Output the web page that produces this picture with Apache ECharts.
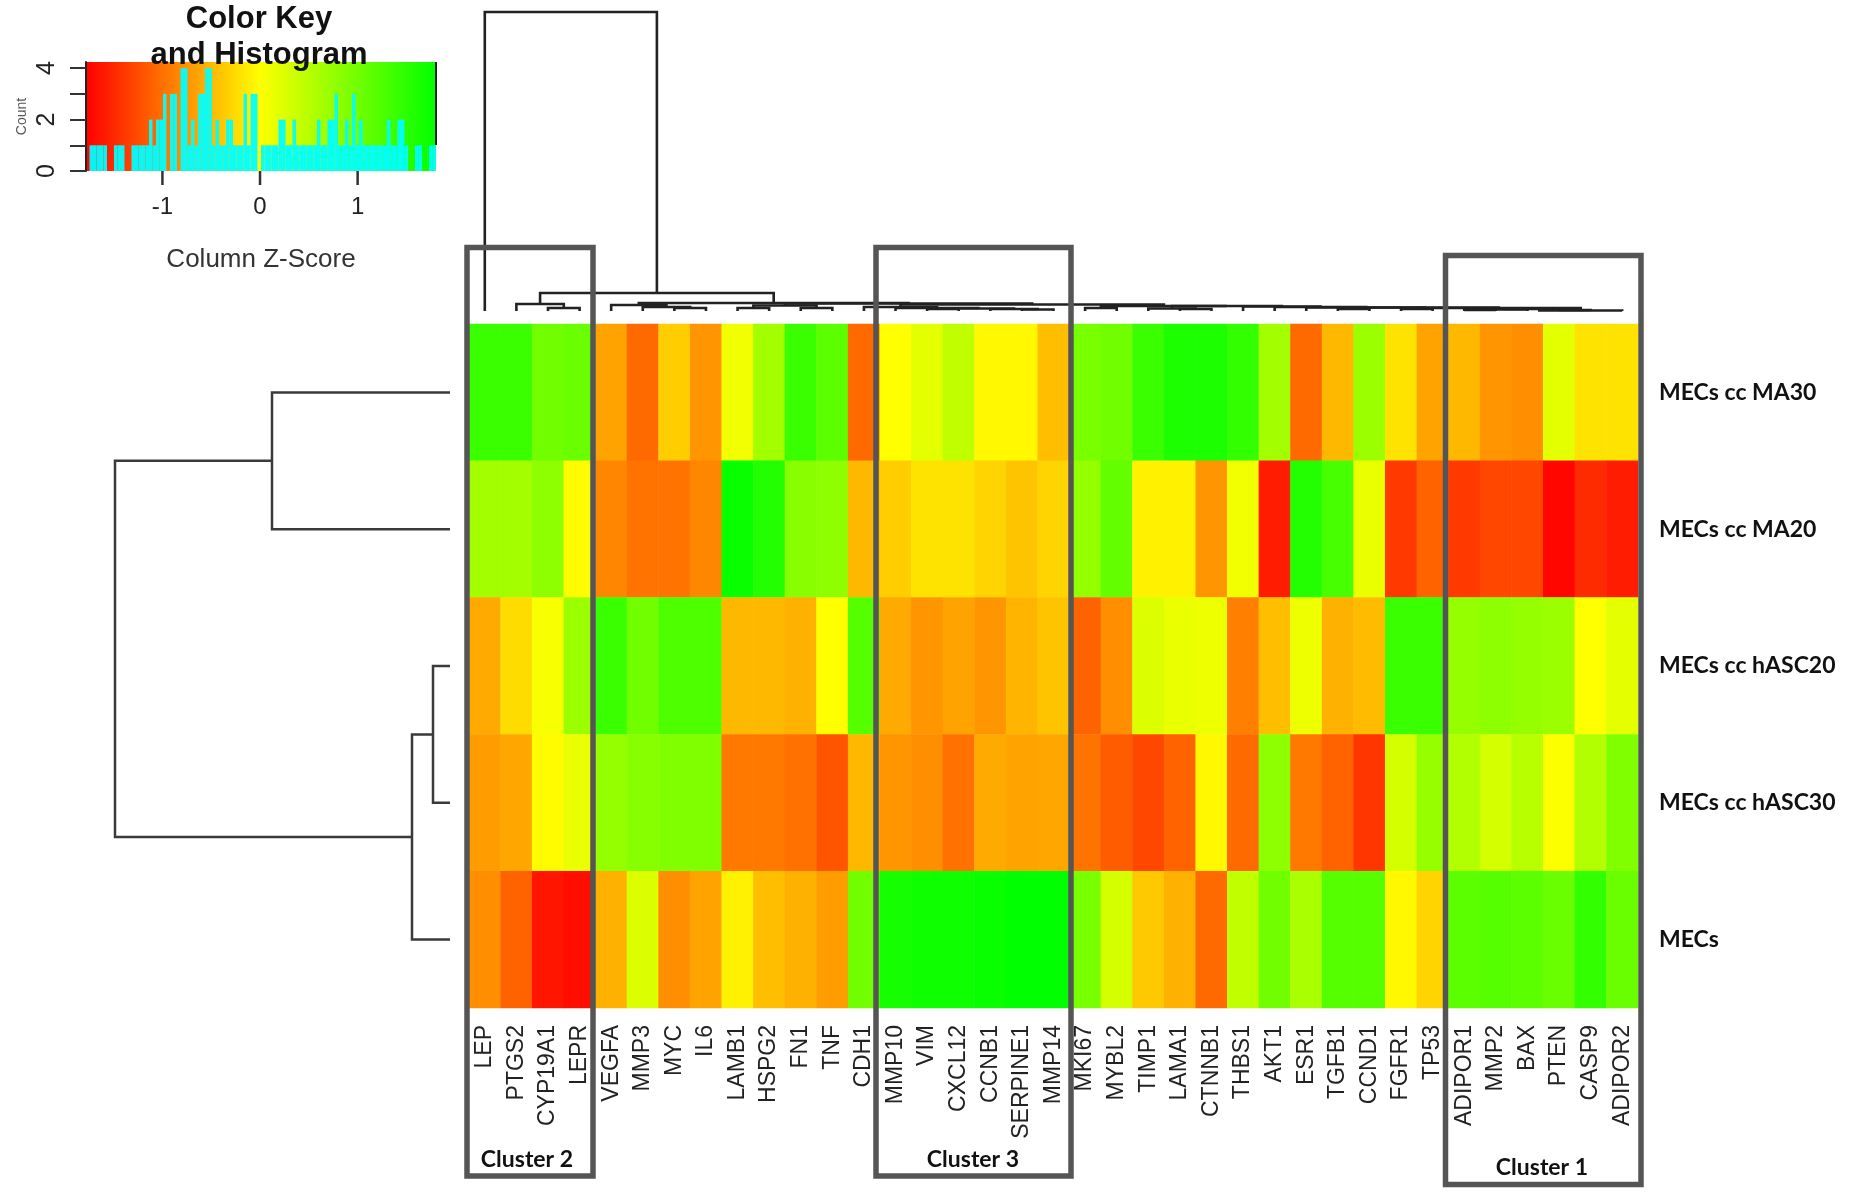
<!DOCTYPE html>
<html>
<head>
<meta charset="utf-8">
<style>html,body{margin:0;padding:0;background:#fff}#c{width:1850px;height:1202px}</style>
<script src="https://cdn.jsdelivr.net/npm/echarts@6/dist/echarts.min.js"></script>
</head>
<body>
<div id="c"></div>
<script>
const genes = ['LEP','PTGS2','CYP19A1','LEPR','VEGFA','MMP3','MYC','IL6','LAMB1','HSPG2','FN1','TNF','CDH1',
  'MMP10','VIM','CXCL12','CCNB1','SERPINE1','MMP14','MKI67','MYBL2','TIMP1','LAMA1','CTNNB1','THBS1','AKT1',
  'ESR1','TGFB1','CCND1','FGFR1','TP53','ADIPOR1','MMP2','BAX','PTEN','CASP9','ADIPOR2'];
const samples = ['MECs cc MA30','MECs cc MA20','MECs cc hASC20','MECs cc hASC30','MECs'];

// column z-scores, one list per sample
const zMA30 = [1.4,1.4,1.0,1.05,-0.65,-1.05,-0.35,-0.75,0.1,0.65,1.4,1.15,-1.05,
  0,0.2,0.45,-0.05,-0.05,-0.45,0.95,1.0,1.4,1.6,1.6,1.45,0.65,
  -1.05,-0.5,0.7,-0.2,-0.65,-0.5,-0.75,-0.8,0.2,-0.2,-0.2];
const zMA20 = [0.65,0.65,0.8,-0.02,-0.85,-0.98,-0.98,-0.85,1.75,1.55,0.85,0.8,-0.5,
  -0.35,-0.2,-0.2,-0.3,-0.42,-0.3,0.75,1.1,-0.1,-0.1,-0.75,0.1,-1.6,
  1.55,1.3,0.15,-1.4,-1.1,-1.4,-1.3,-1.3,-1.75,-1.5,-1.6];
const zHASC20 = [-0.6,-0.25,0.05,0.7,1.4,1.0,1.25,1.25,-0.5,-0.5,-0.55,0,1.2,
  -0.6,-0.75,-0.65,-0.75,-0.52,-0.42,-1.1,-0.8,0.25,0.15,0.12,-0.9,-0.45,
  0.12,-0.55,-0.48,1.4,1.4,0.75,0.8,0.75,0.7,0,0.2];
const zHASC30 = [-0.7,-0.62,-0.02,0.15,0.75,0.85,0.9,0.9,-0.95,-0.95,-1.0,-1.2,-0.5,
  -0.75,-0.8,-1.0,-0.6,-0.65,-0.62,-0.98,-1.15,-1.3,-1.1,-0.05,-1.05,0.8,
  -0.95,-1.1,-1.42,0.3,0.75,0.55,0.3,0.5,0.02,0.55,0.9];
const zMEC = [-0.8,-1.1,-1.65,-1.7,-0.55,0.25,-0.8,-0.65,-0.1,-0.45,-0.55,-0.7,1.0,
  1.65,1.7,1.7,1.75,1.8,1.8,0.95,0.3,-0.38,-0.55,-1.05,0.45,1.0,
  0.6,1.2,1.2,-0.05,-0.3,1.15,1.2,1.15,1.05,1.45,1.05];
const zBySample = [zMA30,zMA20,zHASC20,zHASC30,zMEC];

// histogram counts, equal-width bins across the key
const histCounts = [0,1,1,1,1,1,0,0,1,1,1,0,0,1,1,1,1,1,2,1,2,2,3,0,3,3,0,4,4,1,2,1,3,3,4,4,1,2,1,1,
  2,2,1,1,1,3,1,3,3,0,1,1,1,1,1,2,2,1,1,2,1,1,1,1,1,1,2,1,1,2,2,3,1,1,2,1,3,1,2,1,
  1,1,1,1,1,1,2,1,1,2,2,1,0,0,1,1,0,0,1,1];
const histTicks = [0,1,2,3,4];
const histLabels = [0,2,4];
const keyTicks = [-1,0,1];

// dendrograms in hclust form: negative = leaf number, positive = earlier merge row; third item = height
const colMerge = [[-3,-4,4],[-2,1,8],[-7,-8,4],[-6,3,5],[-5,4,7],[-9,-10,4],[-11,-12,4],[6,7,6.5],
  [-15,-16,3],[-18,-19,2.5],[-17,10,3],[9,11,3.5],[-14,12,4],[-13,13,5],[-20,-21,4],[-23,-24,3],[-22,16,3.5],
  [-28,-29,3],[-30,-31,3],[-32,-33,2],[20,-34,2.5],[-35,-36,2],[21,22,3],[23,-37,1.5],[19,24,4],[18,25,4.5],
  [-27,26,4.5],[-26,27,5],[-25,28,5.5],[17,29,6],[15,30,6],[14,31,7.5],[8,32,8.5],[5,33,9],[2,34,19],[-1,35,300]];
const rowMerge = [[-3,-4,17],[-5,1,38],[-1,-2,178],[3,2,335]];

const RED='#ff0000', YEL='#ffff00', GRN='#00ff00';
const zMin=-1.8, zMax=1.8;
const keyMin=-1.783, keyMax=1.803;

function segments(merge, leafH){
  const nodes=[];
  const get=r=> r<0 ? {p:-r-0.5,h:leafH} : nodes[r-1];
  return merge.map(m=>{
    const a=get(m[0]), b=get(m[1]);
    nodes.push({p:(a.p+b.p)/2,h:m[2]});
    return [a.p,a.h,b.p,b.h,m[2]];
  });
}
function treeSeries(merge,leafH,vertical,xi,yi,style){
  return {type:'custom',xAxisIndex:xi,yAxisIndex:yi,silent:true,clip:false,z:3,
    encode:{x:0,y:1},
    data:segments(merge,leafH),
    renderItem:(p,api)=>{
      const v=[0,1,2,3,4].map(i=>api.value(i));
      const pt=(pos,h)=>vertical?api.coord([pos,h]):api.coord([h,pos]);
      return {type:'polyline',shape:{points:[pt(v[0],v[1]),pt(v[0],v[4]),pt(v[2],v[4]),pt(v[2],v[3])]},style};
    }};
}
const heatData=[];
zBySample.forEach((row,r)=>row.forEach((z,c)=>heatData.push([c,r,z])));
const binW=(keyMax-keyMin)/histCounts.length;

const chart=echarts.init(document.getElementById('c'));
const boxStyle={stroke:'#555',lineWidth:5.5,fill:null};
const txt=(t,x,y)=>({type:'text',x,y,z:20,style:{text:t,font:'bold 23px Lato',fill:'#111',textAlign:'center',textVerticalAlign:'middle'}});
const box=(x1,y1,x2,y2)=>({type:'rect',z:19,shape:{x:x1,y:y1,width:x2-x1,height:y2-y1},style:boxStyle});
const overlays=[
  {type:'line',z:5,shape:{x1:436,y1:62,x2:436,y2:145},style:{stroke:'#222',lineWidth:2}},
  box(467,247.5,593,1176),
  box(876,247.5,1071,1176),
  box(1445.5,255.5,1641,1184.5),
  txt('Cluster 2',527,1160),
  txt('Cluster 3',973,1160),
  txt('Cluster 1',1542,1168)
];

chart.setOption({
  animation:false,
  backgroundColor:'#fff',
  textStyle:{fontFamily:'"Liberation Sans"'},
  title:{text:'Color Key\nand Histogram',left:254,top:-4,textAlign:'center',
    textStyle:{fontSize:31,fontWeight:'bold',color:'#111',lineHeight:36,fontFamily:'"Liberation Sans"'}},
  grid:[
    {left:469,top:324,width:1169,height:684},
    {left:86,top:62,width:350,height:109,show:true,borderWidth:0,
      backgroundColor:new echarts.graphic.LinearGradient(0,0,1,0,[{offset:0,color:RED},{offset:0.4972,color:YEL},{offset:1,color:GRN}])},
    {left:469,top:12,width:1169,height:300},
    {left:100,top:324,width:350,height:684}
  ],
  xAxis:[
    {gridIndex:0,type:'category',data:genes,position:'bottom',axisLine:{show:false},axisTick:{show:false},
      axisLabel:{interval:0,rotate:90,margin:17,fontSize:23,color:'#222',hideOverlap:false}},
    {gridIndex:1,type:'value',min:keyMin,max:keyMax,splitLine:{show:false},
      axisLine:{show:false},axisTick:{show:false},
      axisLabel:{show:true,customValues:keyTicks,margin:24,fontSize:24,color:'#222'},
      name:'Column Z-Score',nameLocation:'middle',nameGap:76,nameTextStyle:{fontSize:26,color:'#333'}},
    {gridIndex:2,type:'value',min:0,max:37,show:false},
    {gridIndex:3,type:'value',min:0,max:350,inverse:true,show:false}
  ],
  yAxis:[
    {gridIndex:0,type:'category',data:samples,inverse:true,position:'right',axisLine:{show:false},axisTick:{show:false},
      axisLabel:{interval:0,margin:21,fontSize:23,fontWeight:'bold',color:'#111',fontFamily:'Lato',padding:[6,0,0,0]}},
    {gridIndex:1,type:'value',min:0,max:4.24,splitLine:{show:false},
      axisLine:{show:true,onZero:false,lineStyle:{color:'#222',width:2}},
      axisTick:{show:true,length:16,lineStyle:{color:'#333',width:2},customValues:histTicks},
      axisLabel:{show:true,rotate:90,customValues:histLabels,margin:26,fontSize:25,color:'#222'},
      name:'Count',nameLocation:'middle',nameGap:57,nameRotate:90,nameTextStyle:{fontSize:14,color:'#555'}},
    {gridIndex:2,type:'value',min:0,max:300,show:false},
    {gridIndex:3,type:'value',min:0,max:5,inverse:true,show:false}
  ],
  visualMap:{show:false,type:'continuous',min:zMin,max:zMax,seriesIndex:0,dimension:2,inRange:{color:[RED,YEL,GRN]}},
  series:[
    {type:'heatmap',xAxisIndex:0,yAxisIndex:0,data:heatData,silent:true,progressive:0},
    {type:'custom',xAxisIndex:1,yAxisIndex:1,silent:true,z:3,encode:{x:0,y:1},
      data:histCounts.map((n,i)=>[i,n]),
      renderItem:(p,api)=>{
        const i=api.value(0), n=api.value(1);
        if(!n) return null;
        const a=api.coord([keyMin+i*binW,n]), b=api.coord([keyMin+(i+1)*binW,0]);
        return {type:'rect',shape:{x:a[0],y:a[1],width:b[0]-a[0],height:b[1]-a[1]},style:{fill:'#00ffff',opacity:0.94}};
      }},
    treeSeries(colMerge,1,true,2,2,{stroke:'#222',lineWidth:2.6,fill:null}),
    treeSeries(rowMerge,0,false,3,3,{stroke:'#3a3a3a',lineWidth:2.5,fill:null})
  ]
});
// key ticks below the histogram, placed through the axis scale
keyTicks.forEach(v=>{
  const a=chart.convertToPixel({xAxisIndex:1,yAxisIndex:1},[v,0]);
  overlays.push({type:'line',z:21,shape:{x1:a[0],y1:a[1],x2:a[0],y2:a[1]+14},style:{stroke:'#333',lineWidth:2.5}});
});
chart.setOption({graphic:overlays});
</script>
</body>
</html>
